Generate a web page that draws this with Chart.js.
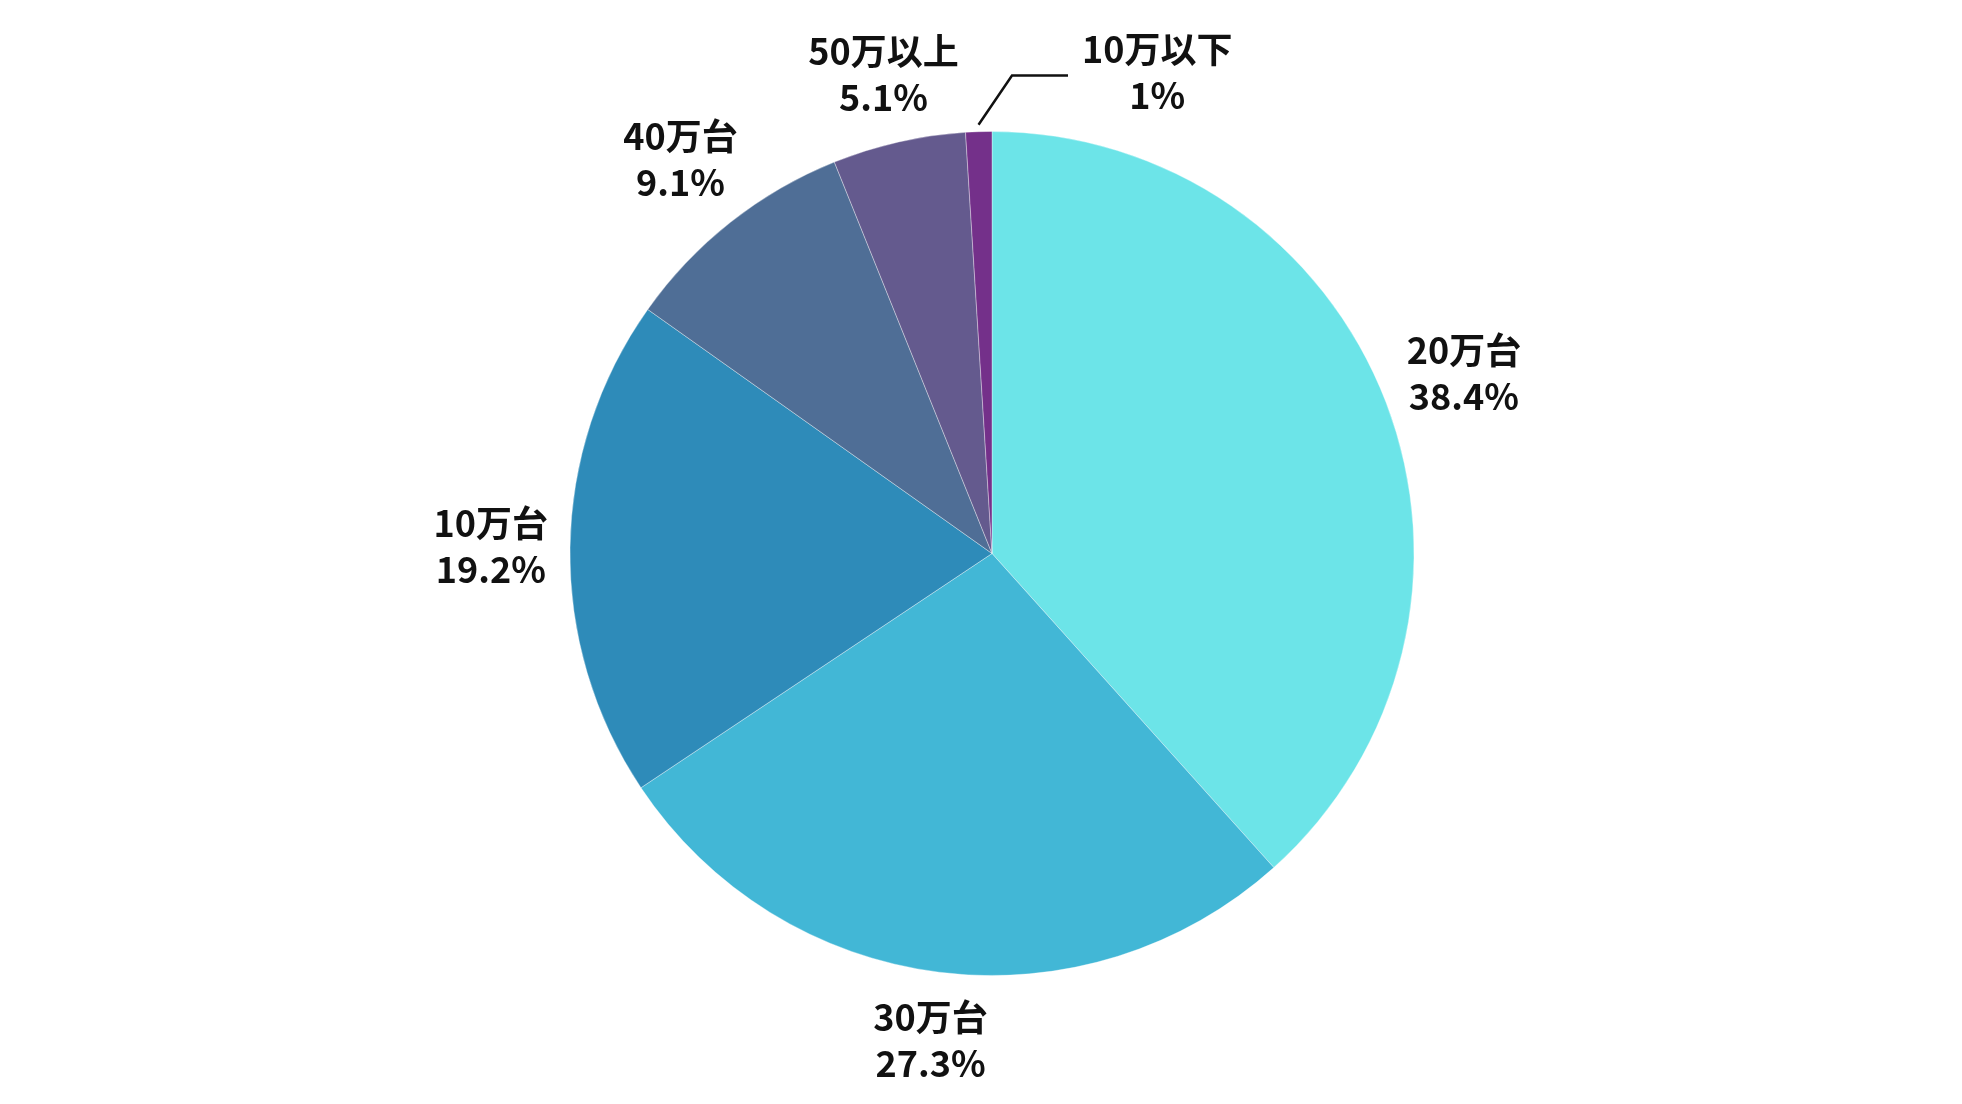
<!DOCTYPE html>
<html>
<head>
<meta charset="utf-8">
<script src="https://cdn.jsdelivr.net/npm/chart.js@4.4.1/dist/chart.umd.min.js"></script>
<style>
  html, body { margin: 0; padding: 0; background: #fff; }
  #wrap { width: 1962px; height: 1104px; }
</style>
</head>
<body>
<div id="wrap"><canvas id="pie"></canvas></div>
<script>
// slices, clockwise from 12 o'clock
const labels = ['20万台', '30万台', '10万台', '40万台', '50万以上', '10万以下'];
const shares = [38.4, 27.3, 19.2, 9.1, 5.1, 1];
const colors = ['#6ce4e8', '#42b7d6', '#2e8bb9', '#4f6e96', '#645a8e', '#74308a'];

const FONT = 'bold 36px "Noto Sans CJK JP", "Noto Sans", sans-serif';
const LINE_H = 46;

// draws the two-line labels outside the pie, with a leader line for tiny slices
const outsideLabels = {
  id: 'outsideLabels',
  afterDatasetsDraw(chart) {
    const ctx = chart.ctx;
    const meta = chart.getDatasetMeta(0);
    ctx.save();
    ctx.font = FONT;
    ctx.fillStyle = '#111';
    ctx.textBaseline = 'middle';
    meta.data.forEach((arc, i) => {
      const p = arc.getProps(['x', 'y', 'startAngle', 'endAngle', 'outerRadius'], true);
      const mid = (p.startAngle + p.endAngle) / 2;
      const dx = Math.cos(mid), dy = Math.sin(mid);
      const lines = [labels[i], shares[i] + '%'];
      const w = Math.max(...lines.map(t => ctx.measureText(t).width));
      const h = LINE_H * 2;

      if (shares[i] < 2) {
        // leader line up and to the right
        const sx = p.x + dx * (p.outerRadius + 7), sy = p.y + dy * (p.outerRadius + 7);
        const ey = p.y - p.outerRadius - 56;
        const ex = p.x + 20, lx = p.x + 76;
        ctx.strokeStyle = '#111';
        ctx.lineWidth = 2.5;
        ctx.beginPath();
        ctx.moveTo(sx, sy);
        ctx.lineTo(ex, ey);
        ctx.lineTo(lx, ey);
        ctx.stroke();
        ctx.textAlign = 'left';
        const tx = lx + 14;
        lines.forEach((t, k) => {
          const lw = ctx.measureText(t).width;
          ctx.fillText(t, tx + (w - lw) / 2, ey - 3 + (k - 0.5) * LINE_H);
        });
        return;
      }

      const ext = Math.min(
        Math.abs(dx) > 1e-6 ? (w / 2) / Math.abs(dx) : Infinity,
        Math.abs(dy) > 1e-6 ? (h / 2) / Math.abs(dy) : Infinity
      );
      const dist = p.outerRadius + 22 + ext;
      const cx = p.x + dx * dist, cy = p.y + dy * dist;
      ctx.textAlign = 'center';
      lines.forEach((t, k) => ctx.fillText(t, cx, cy + (k - 0.5) * LINE_H));
    });
    ctx.restore();
  }
};

new Chart(document.getElementById('pie'), {
  type: 'pie',
  data: {
    labels: labels,
    datasets: [{
      data: shares,
      backgroundColor: colors,
      borderColor: 'rgba(255,255,255,0.35)',
      borderWidth: 1
    }]
  },
  options: {
    responsive: true,
    maintainAspectRatio: false,
    animation: false,
    layout: { padding: { top: 131, bottom: 128, left: 22, right: 0 } },
    plugins: {
      legend: { display: false },
      tooltip: { enabled: false }
    }
  },
  plugins: [outsideLabels]
});
</script>
</body>
</html>
